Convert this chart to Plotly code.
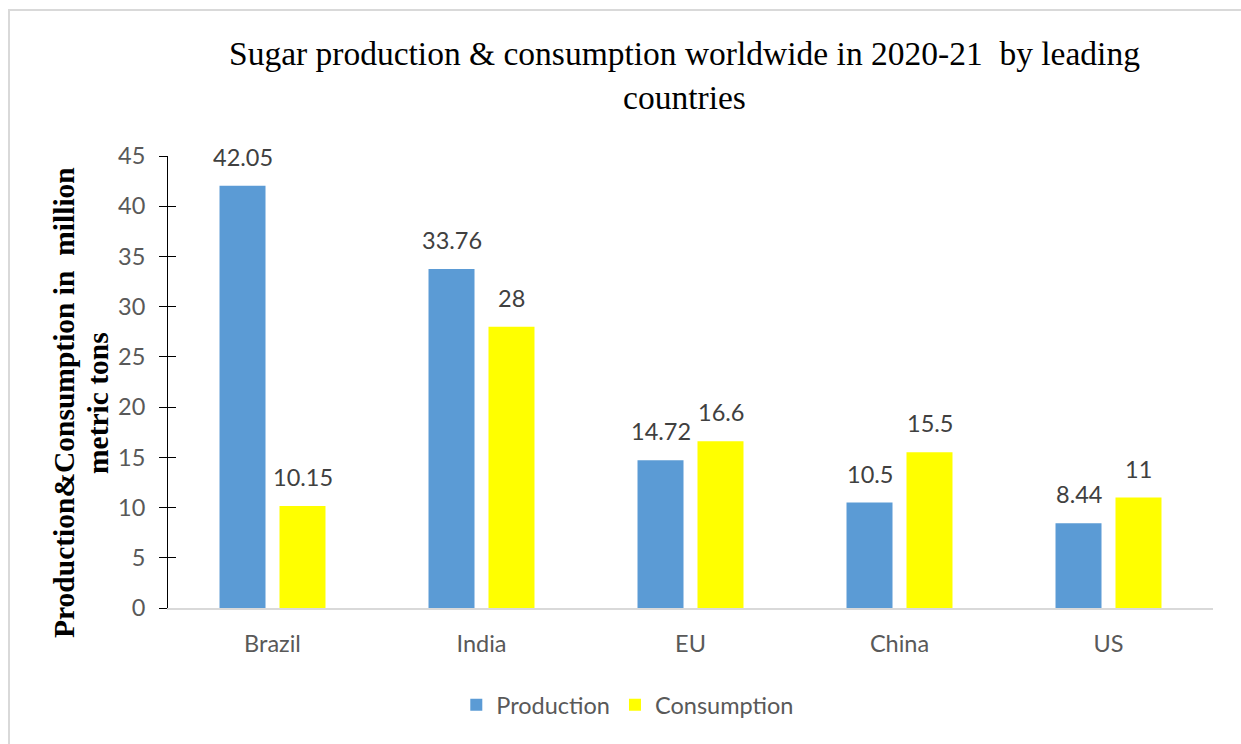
import plotly.graph_objects as go

countries = ["Brazil", "India", "EU", "China", "US"]
production = [42.05, 33.76, 14.72, 10.5, 8.44]
consumption = [10.15, 28, 16.6, 15.5, 11]
y_ticks = [0, 5, 10, 15, 20, 25, 30, 35, 40, 45]

BLUE = "#5B9BD5"
YELLOW = "#FFFF00"
SANS = "Lato, Liberation Sans, sans-serif"
SERIF = "Liberation Serif, Times New Roman, serif"
FS = 23.5

fig = go.Figure()
fig.add_trace(go.Bar(name="Production", x=countries, y=production,
                     marker=dict(color=BLUE, line=dict(width=0))))
fig.add_trace(go.Bar(name="Consumption", x=countries, y=consumption,
                     marker=dict(color=YELLOW, line=dict(width=0))))
# empty helper trace so the overlay axis (inner tick marks) is drawn
fig.add_trace(go.Scatter(x=[], y=[], yaxis="y2", showlegend=False,
                         hoverinfo="skip"))

# value labels above each bar
annotations = []
for series, shift in ((production, -30), (consumption, 30)):
    for c, v in zip(countries, series):
        annotations.append(dict(
            x=c, y=v, xref="x", yref="y", text=f"{v:g}", showarrow=False,
            xshift=shift, yshift=29, yanchor="middle",
            font=dict(family=SANS, size=FS, color="#404040")))

# chart title
annotations.append(dict(
    x=0.4947, y=(608 - 76) / 452, xref="paper", yref="paper",
    text="Sugar production &amp; consumption worldwide in 2020-21  by leading<br>countries",
    showarrow=False, xanchor="center", yanchor="middle",
    font=dict(family=SERIF, size=33.5, color="#000000")))

# y-axis title, two rotated lines
for text, px in (("Production&amp;Consumption in  million", 64),
                 ("metric tons", 98)):
    annotations.append(dict(
        x=(px - 168) / 1045, y=(608 - 403) / 452, xref="paper", yref="paper",
        text=f"<b>{text}</b>", showarrow=False, textangle=-90,
        xanchor="center", yanchor="middle",
        font=dict(family=SERIF, size=29.5, color="#000000")))

fig.update_layout(
    width=1241, height=744,
    margin=dict(l=168, r=28, t=156, b=136),
    paper_bgcolor="white", plot_bgcolor="white",
    barmode="group", bargap=0.426, bargroupgap=0.233,
    showlegend=True,
    legend=dict(orientation="h", x=0.44, y=(608 - 705) / 452,
                xanchor="center", yanchor="middle",
                font=dict(family=SANS, size=FS, color="#595959"),
                itemsizing="constant"),
    xaxis=dict(showgrid=False, showline=True, linecolor="#d9d9d9",
               linewidth=1.5, ticks="outside", ticklen=14,
               tickcolor="rgba(0,0,0,0)",
               tickfont=dict(family=SANS, size=FS, color="#595959")),
    yaxis=dict(range=[0, 45], tickvals=y_ticks, showgrid=False,
               zeroline=False, showline=True, linecolor="#000000",
               linewidth=1, ticks="outside", ticklen=8,
               tickcolor="#000000", ticklabelstandoff=9,
               tickfont=dict(family=SANS, size=FS, color="#595959")),
    yaxis2=dict(range=[0, 45], overlaying="y", side="left", anchor="x",
                tickvals=y_ticks[1:], ticks="inside", ticklen=8,
                tickcolor="#000000", showticklabels=False,
                showgrid=False, zeroline=False, showline=False),
    annotations=annotations,
    shapes=[dict(type="rect", xref="paper", yref="paper",
                 x0=(9 - 168) / 1045, x1=1.2,
                 y0=-0.5, y1=(608 - 10) / 452,
                 line=dict(color="#d9d9d9", width=2),
                 fillcolor="rgba(0,0,0,0)", layer="below")],
)

fig.write_html("out.html")
